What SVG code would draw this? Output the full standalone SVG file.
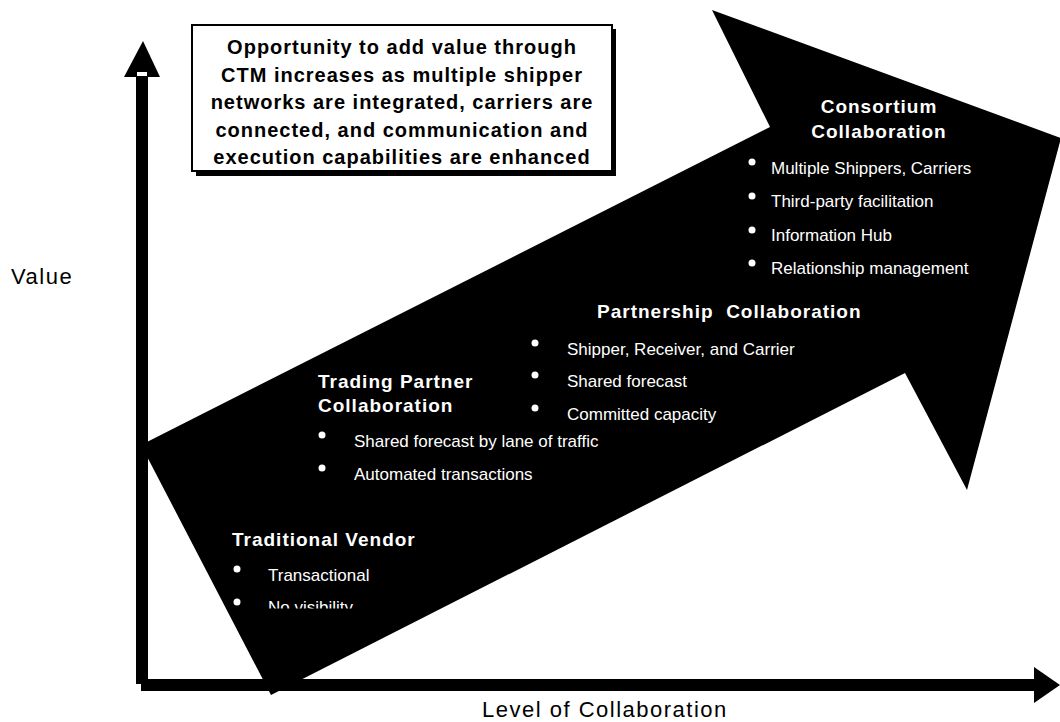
<svg xmlns="http://www.w3.org/2000/svg" width="1060" height="722" viewBox="0 0 1060 722">
  <defs>
    <style>
      text { font-family: "Liberation Sans", Arial, Helvetica, sans-serif; }
      .ink { fill: #000; }
      .hd { font-weight: bold; font-size: 19px; letter-spacing: 1px; fill: #fff; }
      .bt { font-size: 17px; fill: #fff; }
      .dot { fill: #fff; }
      .bx { font-weight: bold; font-size: 20px; letter-spacing: 1px; text-anchor: middle; fill: #000; }
      .lab { font-size: 22px; letter-spacing: 1.5px; fill: #000; }
    </style>
    <clipPath id="noteClip"><rect x="193" y="26" width="418" height="142"/></clipPath>
    <clipPath id="vendorClip"><rect x="255" y="585" width="200" height="23.5"/></clipPath>
  </defs>

  <rect width="1060" height="722" fill="#fff"/>

  <!-- broad rising arrow behind the stages -->
  <g id="growth-arrow">
    <polygon class="ink" points="141,445 770,127 712,10 1061,138 967,490 905,373 271,695"/>
  </g>

  <!-- axes -->
  <g id="connectors">
    <rect class="ink" x="136" y="76" width="12" height="608"/>
    <polygon class="ink" points="143,41 160,77 124,77"/>
    <rect x="137" y="72" width="10" height="4" fill="#fff"/>
    <rect class="ink" x="141" y="679" width="895" height="12"/>
    <polygon class="ink" points="1034,667 1060,685 1034,703"/>
  </g>

  <g id="value-label">
    <text class="lab" x="11" y="284">Value</text>
  </g>
  <g id="collaboration-label">
    <text class="lab" x="482" y="717">Level of Collaboration</text>
  </g>

  <!-- callout box with drop shadow -->
  <g id="note">
    <rect class="ink" x="196" y="29" width="420" height="147"/>
    <rect x="192" y="25" width="420" height="146" fill="#fff" stroke="#000" stroke-width="2"/>
    <g clip-path="url(#noteClip)">
      <text class="bx" x="402" y="54">Opportunity to add value through</text>
      <text class="bx" x="402" y="81.5">CTM increases as multiple shipper</text>
      <text class="bx" x="402" y="109">networks are integrated, carriers are</text>
      <text class="bx" x="402" y="136.5">connected, and communication and</text>
      <text class="bx" x="402" y="164">execution capabilities are enhanced</text>
    </g>
  </g>

  <g id="traditional-vendor">
    <text class="hd" x="232" y="546">Traditional Vendor</text>
    <circle class="dot" cx="237" cy="569" r="3.5"/>
    <text class="bt" x="268" y="581">Transactional</text>
    <circle class="dot" cx="237" cy="602" r="3.5"/>
    <text class="bt" x="268" y="613" clip-path="url(#vendorClip)">No visibility</text>
  </g>

  <g id="trading-partner">
    <text class="hd" x="318" y="388">Trading Partner</text>
    <text class="hd" x="318" y="412">Collaboration</text>
    <circle class="dot" cx="322" cy="435" r="3.5"/>
    <text class="bt" x="354" y="447">Shared forecast by lane of traffic</text>
    <circle class="dot" cx="322" cy="468" r="3.5"/>
    <text class="bt" x="354" y="480">Automated transactions</text>
  </g>

  <g id="partnership">
    <text class="hd" x="597" y="318" xml:space="preserve">Partnership  Collaboration</text>
    <circle class="dot" cx="535" cy="343" r="3.5"/>
    <text class="bt" x="567" y="355">Shipper, Receiver, and Carrier</text>
    <circle class="dot" cx="535" cy="375" r="3.5"/>
    <text class="bt" x="567" y="387">Shared forecast</text>
    <circle class="dot" cx="535" cy="408" r="3.5"/>
    <text class="bt" x="567" y="420">Committed capacity</text>
  </g>

  <g id="consortium">
    <text class="hd" x="879" y="113" text-anchor="middle">Consortium</text>
    <text class="hd" x="879" y="138" text-anchor="middle">Collaboration</text>
    <circle class="dot" cx="752" cy="162" r="3.5"/>
    <text class="bt" x="771" y="174">Multiple Shippers, Carriers</text>
    <circle class="dot" cx="752" cy="196" r="3.5"/>
    <text class="bt" x="771" y="207">Third-party facilitation</text>
    <circle class="dot" cx="752" cy="230" r="3.5"/>
    <text class="bt" x="771" y="241">Information Hub</text>
    <circle class="dot" cx="752" cy="263" r="3.5"/>
    <text class="bt" x="771" y="274">Relationship management</text>
  </g>
</svg>
